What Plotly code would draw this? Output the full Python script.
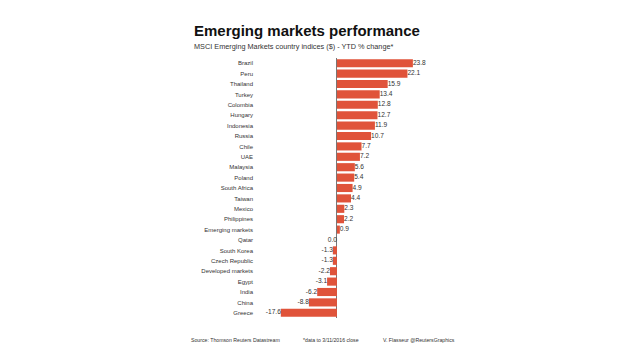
import plotly.graph_objects as go

countries = ["Brazil", "Peru", "Thailand", "Turkey", "Colombia", "Hungary", "Indonesia",
             "Russia", "Chile", "UAE", "Malaysia", "Poland", "South Africa", "Taiwan",
             "Mexico", "Philippines", "Emerging markets", "Qatar", "South Korea",
             "Czech Republic", "Developed markets", "Egypt", "India", "China", "Greece"]
ytd_change = [23.8, 22.1, 15.9, 13.4, 12.8, 12.7, 11.9, 10.7, 7.7, 7.2, 5.6, 5.4, 4.9, 4.4,
              2.3, 2.2, 0.9, 0.0, -1.3, -1.3, -2.2, -3.1, -6.2, -8.8, -17.6]

title_text = "Emerging markets performance"
subtitle_text = "MSCI Emerging Markets country indices ($) - YTD % change*"
footer_source = "Source: Thomson Reuters Datastream"
footer_note = "*data to 3/11/2016 close"
footer_credit = "V. Flasseur @ReutersGraphics"

BAR = "#e0533a"
FONT = "Liberation Sans, Arial, sans-serif"
L, R, T, B = 262, 440, 58, 318
PW, PH = R - L, B - T

fig = go.Figure()
fig.add_trace(go.Bar(
    x=ytd_change, y=countries, orientation="h",
    marker=dict(color=BAR, line=dict(width=0)),
    hoverinfo="skip",
))
fig.add_trace(go.Scatter(
    x=ytd_change, y=countries, mode="text",
    text=[f"{v:.1f}" for v in ytd_change],
    textposition=["middle right" if v > 0 else "middle left" for v in ytd_change],
    textfont=dict(size=6.6, color="#333333", family=FONT),
    cliponaxis=False, hoverinfo="skip",
))

fig.update_layout(
    width=620, height=355,
    margin=dict(l=L, r=620 - R, t=T, b=355 - B, autoexpand=False),
    paper_bgcolor="white", plot_bgcolor="white",
    showlegend=False, bargap=0.22,
    xaxis=dict(range=[-23.5, 32.3], showgrid=False, showticklabels=False, ticks="",
               zeroline=True, zerolinecolor="#777777", zerolinewidth=1, fixedrange=True),
    yaxis=dict(categoryorder="array", categoryarray=countries[::-1], autorange=False,
               range=[-0.5, len(countries) - 0.5], showgrid=False, ticks="",
               ticklabelstandoff=8,
               tickfont=dict(size=6, color="#333333", family=FONT)),
    font=dict(family=FONT),
)

def px_x(px):
    return (px - L) / PW

def px_y(py):
    return (B - py) / PH

fig.add_annotation(text=f"<b>{title_text}</b>", xref="paper", yref="paper",
                   x=px_x(192), y=px_y(31), xanchor="left", yanchor="middle",
                   showarrow=False, font=dict(size=15, color="#111111", family=FONT))
fig.add_annotation(text=subtitle_text, xref="paper", yref="paper",
                   x=px_x(192), y=px_y(47), xanchor="left", yanchor="middle",
                   showarrow=False, font=dict(size=7.3, color="#333333", family=FONT))
for txt, px in [(footer_source, 189), (footer_note, 301), (footer_credit, 381)]:
    fig.add_annotation(text=txt, xref="paper", yref="paper",
                       x=px_x(px), y=px_y(340), xanchor="left", yanchor="middle",
                       showarrow=False, font=dict(size=5.2, color="#333333", family=FONT))

fig.write_html("out.html", config=dict(displayModeBar=False),
               post_script="document.body.style.margin='0';document.body.style.overflow='hidden';")
